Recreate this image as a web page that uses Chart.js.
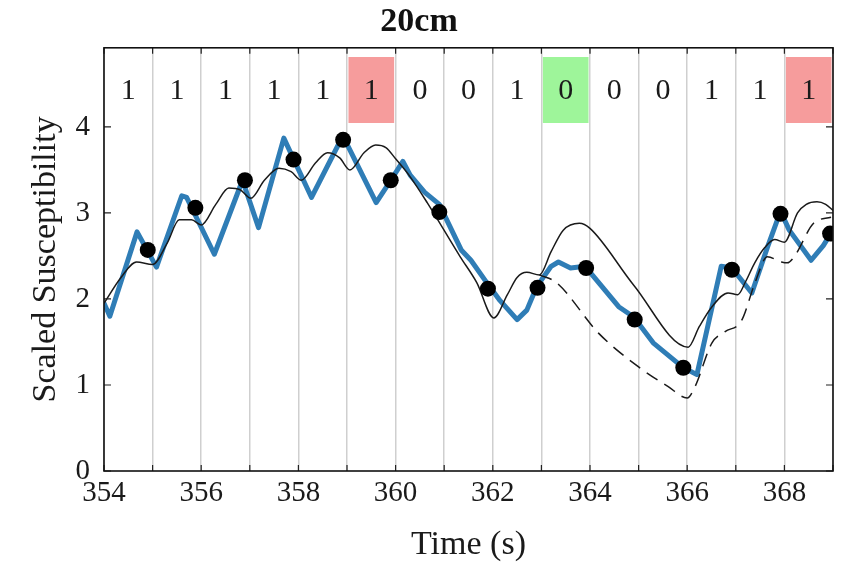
<!DOCTYPE html>
<html>
<head>
<meta charset="utf-8">
<script src="https://cdn.jsdelivr.net/npm/chart.js@4.4.1/dist/chart.umd.min.js"></script>
<style>
  html, body { margin: 0; padding: 0; background: #fff; }
</style>
</head>
<body>
<canvas id="chart" width="841" height="563"></canvas>
<script>
// 20cm susceptibility trace with bit labels per second

const FONT = '"Liberation Serif", "Times New Roman", serif';

// one bit per 1 s window, and which windows are highlighted
const gridSeconds = [354, 355, 356, 357, 358, 359, 360, 361, 362, 363, 364, 365, 366, 367, 368, 369];
const bits = [1, 1, 1, 1, 1, 1, 0, 0, 1, 0, 0, 0, 1, 1, 1];
const flags = ['', '', '', '', '', 'r', '', '', '', 'g', '', '', '', '', 'r'];

const xTickLabels = [354, 356, 358, 360, 362, 364, 366, 368];
const yTicks = [0, 1, 2, 3, 4];

// measured signal (blue)
const measT = [354.0, 354.12, 354.68, 355.08, 355.6, 355.7, 356.27, 356.85, 357.18, 357.7, 358.27, 358.9, 359.0,
  359.6, 359.9, 360.15, 360.3, 360.6, 360.9, 361.0, 361.35, 361.55, 361.9, 362.15, 362.5, 362.7, 362.9,
  363.2, 363.35, 363.6, 363.9, 364.59, 364.9, 365.3, 365.9, 366.2, 366.7, 366.92, 367.33, 367.65, 367.92,
  368.1, 368.55, 368.8, 369.0];
const measY = [1.95, 1.8, 2.78, 2.37, 3.2, 3.18, 2.52, 3.38, 2.83, 3.87, 3.18, 3.88, 3.8,
  3.12, 3.38, 3.6, 3.44, 3.24, 3.1, 2.98, 2.57, 2.45, 2.17, 1.98, 1.76, 1.87, 2.14,
  2.38, 2.43, 2.36, 2.38, 1.91, 1.79, 1.49, 1.21, 1.12, 2.38, 2.36, 2.07, 2.6, 3.02,
  2.8, 2.45, 2.62, 2.8];

// model (thin black)
const modelT = [354.0, 354.35, 354.67, 355.0, 355.3, 355.55, 355.8, 356.0, 356.3, 356.57, 356.8, 357.02, 357.3,
  357.6, 357.85, 358.06, 358.35, 358.6, 358.85, 359.06, 359.35, 359.59, 359.8, 360.0, 360.3, 360.65,
  361.33, 361.67, 362.02, 362.3, 362.5, 362.7, 362.96, 363.2, 363.45, 363.78, 364.0, 364.9, 366.02,
  366.25, 366.51, 366.84, 367.04, 367.2, 367.39, 367.6, 367.8, 368.0, 368.27, 368.45, 368.67, 368.85, 369.0];
const modelY = [1.95, 2.25, 2.43, 2.4, 2.65, 2.92, 2.92, 2.86, 3.1, 3.29, 3.27, 3.17, 3.38,
  3.52, 3.48, 3.38, 3.58, 3.7, 3.64, 3.5, 3.7, 3.79, 3.76, 3.63, 3.42, 3.12,
  2.49, 2.19, 1.78, 2.05, 2.25, 2.31, 2.28, 2.55, 2.8, 2.88, 2.82, 2.16, 1.44,
  1.68, 1.91, 2.07, 2.05, 2.2, 2.42, 2.6, 2.69, 2.66, 3.0, 3.1, 3.13, 3.1, 3.03];

// alternative model (dashed)
const altT = [362.96, 363.31, 364.18, 365.0, 365.61, 366.0, 366.16, 366.51, 366.78, 367.12, 367.39, 367.65,
  367.94, 368.06, 368.2, 368.6, 368.96];
const altY = [2.28, 2.19, 1.6, 1.21, 0.98, 0.85, 0.98, 1.49, 1.62, 1.75, 2.18, 2.49,
  2.43, 2.42, 2.49, 2.88, 2.95];

// sampled points (black dots)
const dotT = [354.9, 355.88, 356.9, 357.9, 358.92, 359.9, 360.9, 361.9, 362.92, 363.92, 364.92, 365.92, 366.92, 367.92, 368.94];
const dotY = [2.57, 3.06, 3.38, 3.62, 3.85, 3.38, 3.01, 2.12, 2.13, 2.36, 1.76, 1.2, 2.34, 2.99, 2.76];

const boxLow = 4.05, boxHigh = 4.81, digitY = 4.42;
const flagColor = { r: '#f69c9c', g: '#9ef59a' };

const zip = (xs, ys) => xs.map((x, i) => ({ x: x, y: ys[i] }));

const boxData = [];
const boxColors = [];
flags.forEach((f, i) => {
  if (!f) return;
  boxData.push({ x: gridSeconds[i] + 0.5, y: [boxLow, boxHigh] });
  boxColors.push(flagColor[f]);
});

// digits, inward tick marks and the closed box
const framePlugin = {
  id: 'frame',
  afterDatasetsDraw(chart) {
    const { ctx, chartArea: a, scales: { x, y } } = chart;
    ctx.save();
    ctx.font = '30px ' + FONT;
    ctx.fillStyle = '#1a1a1a';
    ctx.textAlign = 'center';
    ctx.textBaseline = 'middle';
    bits.forEach((b, i) => {
      ctx.fillText(String(b), x.getPixelForValue(gridSeconds[i] + 0.5), y.getPixelForValue(digitY));
    });

    ctx.strokeStyle = '#222';
    ctx.lineWidth = 1.2;
    ctx.beginPath();
    yTicks.forEach(v => {
      const py = y.getPixelForValue(v);
      ctx.moveTo(a.left, py); ctx.lineTo(a.left + 7, py);
      ctx.moveTo(a.right, py); ctx.lineTo(a.right - 7, py);
    });
    gridSeconds.forEach(v => {
      const px = x.getPixelForValue(v);
      ctx.moveTo(px, a.bottom); ctx.lineTo(px, a.bottom - 6);
      ctx.moveTo(px, a.top); ctx.lineTo(px, a.top + 6);
    });
    ctx.stroke();

    ctx.lineWidth = 1.6;
    ctx.strokeStyle = '#111';
    ctx.strokeRect(a.left, a.top, a.right - a.left, a.bottom - a.top);
    ctx.restore();
  }
};

new Chart(document.getElementById('chart'), {
  type: 'line',
  data: {
    datasets: [
      {
        type: 'bar',
        data: boxData,
        backgroundColor: boxColors,
        borderWidth: 0,
        barThickness: 45,
        order: 5
      },
      {
        data: zip(measT, measY),
        borderColor: '#2f7db6',
        borderWidth: 5,
        borderJoinStyle: 'round',
        borderCapStyle: 'round',
        pointRadius: 0,
        tension: 0,
        order: 4
      },
      {
        data: zip(modelT, modelY),
        borderColor: '#1a1a1a',
        borderWidth: 1.5,
        pointRadius: 0,
        cubicInterpolationMode: 'monotone',
        order: 2
      },
      {
        data: zip(altT, altY),
        borderColor: '#1a1a1a',
        borderWidth: 1.5,
        borderDash: [13, 8],
        pointRadius: 0,
        cubicInterpolationMode: 'monotone',
        order: 3
      },
      {
        data: zip(dotT, dotY),
        showLine: false,
        pointRadius: 8,
        pointBackgroundColor: '#000',
        pointBorderWidth: 0,
        order: 0
      }
    ]
  },
  options: {
    responsive: false,
    animation: false,
    layout: { padding: { left: 0, right: 3, top: 0, bottom: 0 } },
    plugins: {
      legend: { display: false },
      tooltip: { enabled: false },
      title: {
        display: true,
        text: '20cm',
        color: '#111',
        font: { family: FONT, size: 34, weight: 'bold', lineHeight: 1.2 },
        padding: { top: 2, bottom: 5 }
      }
    },
    scales: {
      x: {
        type: 'linear',
        min: 354,
        max: 369,
        offset: false,
        afterBuildTicks: s => { s.ticks = gridSeconds.map(v => ({ value: v })); },
        afterFit: s => { s.height = 92; },
        grid: { color: '#cfcfcf', lineWidth: 1.5, drawTicks: false, offset: false },
        border: { display: false },
        ticks: {
          autoSkip: false,
          maxRotation: 0,
          padding: 5,
          color: '#1a1a1a',
          font: { family: FONT, size: 29 },
          callback: v => xTickLabels.includes(v) ? String(v) : ''
        },
        title: {
          display: true,
          text: 'Time (s)',
          color: '#1a1a1a',
          font: { family: FONT, size: 34, lineHeight: 1 },
          padding: { top: 0, bottom: 1 }
        }
      },
      y: {
        type: 'linear',
        min: 0,
        max: 4.92,
        afterBuildTicks: s => { s.ticks = yTicks.map(v => ({ value: v })); },
        afterFit: s => { s.width = 104; },
        grid: { display: false, drawTicks: false },
        border: { display: false },
        ticks: {
          padding: 14,
          color: '#1a1a1a',
          font: { family: FONT, size: 29 }
        },
        title: {
          display: true,
          text: 'Scaled Susceptibility',
          color: '#1a1a1a',
          font: { family: FONT, size: 34 },
          padding: { top: 26, bottom: 0 }
        }
      }
    }
  },
  plugins: [framePlugin]
});
</script>
</body>
</html>
